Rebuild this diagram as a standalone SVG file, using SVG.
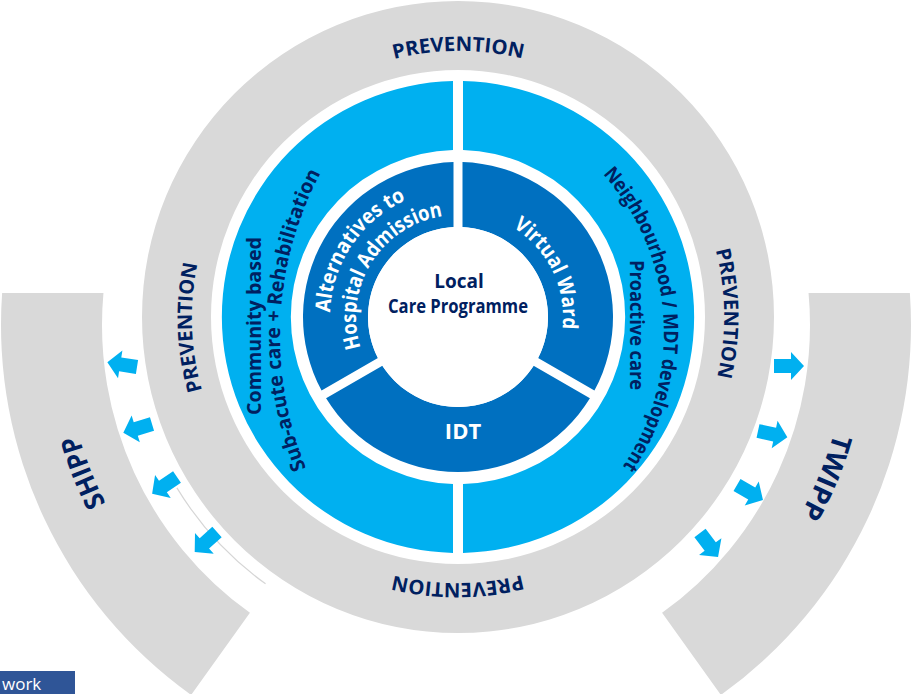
<svg xmlns="http://www.w3.org/2000/svg" width="912" height="694" viewBox="0 0 912 694">
<style>
  text{font-family:"Open Sans","Liberation Sans",Arial,sans-serif;font-weight:700}
  .g{fill:#d9d9d9}
  .lb{fill:#00b0f0}
  .db{fill:#0070c0}
  .n{fill:#002060}
  .w{fill:#ffffff}
  .arr{fill:#00b0f0}
  .prev{font-size:20px}
  .ring{font-size:20px}
  .inner{font-size:21px}
  .band{font-size:27px}
</style>
<defs>
  <path id="arrow" d="M0,-7 L17,-7 L17,-14 L30,0 L17,14 L17,7 L0,7 Z"/>
  <path id="prevCircle" d="M645.38,504.38 A265,265 0 1 1 270.62,129.62 A265,265 0 1 1 645.38,504.38"/>
  <path id="subPath" d="M326.49,509.5 A347,347 0 0 1 344.85,134"/>
  <path id="neighPath" d="M594.58,165.42 A237,237 0 0 1 615.78,476.29"/>
  <path id="altPath" d="M336.97,358.67 A128,128 0 0 1 451.3,189.18"/>
  <path id="hospPath" d="M369.67,368 A102,102 0 0 1 465.12,215.25"/>
  <path id="vwPath" d="M476.23,213.59 A105,105 0 0 1 550.71,366.29"/>
  <path id="shippPath" d="M259.5,665.34 A393,393 0 0 1 79.77,211.41"/>
  <path id="twippPath" d="M833.78,216.67 A393,393 0 0 1 647.73,668.06"/>
</defs>
<rect width="912" height="694" fill="#ffffff"/>

<g id="prevention-ring">
  <path class="g" fill-rule="evenodd" d="M774,317 A316,316 0 1 1 142,317 A316,316 0 1 1 774,317 Z M705,317 A247,247 0 1 0 211,317 A247,247 0 1 0 705,317 Z"/>
  <text class="n prev"><textPath href="#prevCircle" startOffset="12.5%" text-anchor="middle" textLength="130" lengthAdjust="spacingAndGlyphs">PREVENTION</textPath></text>
  <text class="n prev"><textPath href="#prevCircle" startOffset="36.9%" text-anchor="middle" textLength="128" lengthAdjust="spacingAndGlyphs">PREVENTION</textPath></text>
  <text class="n prev"><textPath href="#prevCircle" startOffset="62.5%" text-anchor="middle" textLength="130" lengthAdjust="spacingAndGlyphs">PREVENTION</textPath></text>
  <text class="n prev"><textPath href="#prevCircle" startOffset="87.3%" text-anchor="middle" textLength="128" lengthAdjust="spacingAndGlyphs">PREVENTION</textPath></text>
  <path d="M176.91,487.92 A329,329 0 0 0 265.55,583.84" fill="none" stroke="#d6d6d6" stroke-width="1.2"/>
</g>

<g id="shipp">
  <path class="g" d="M2.13,293 L103.45,293 A354,354 0 0 0 249.93,612.83 L191.14,694.95 A455,455 0 0 1 2.13,293 Z"/>
  <text class="n band"><textPath href="#shippPath" startOffset="50%" text-anchor="middle" textLength="74" lengthAdjust="spacingAndGlyphs">SHIPP</textPath></text>
</g>

<g id="twipp">
  <path class="g" d="M909.87,293 L808.55,293 A354,354 0 0 1 662.07,612.83 L720.86,694.95 A455,455 0 0 0 909.87,293 Z"/>
  <text class="n band"><textPath href="#twippPath" startOffset="50%" text-anchor="middle" textLength="88" lengthAdjust="spacingAndGlyphs">TWIPP</textPath></text>
</g>

<g id="community-subacute">
  <path class="lb" d="M453,552.95 A236,236 0 0 1 453,81.05 L453,150.07 A167,167 0 0 0 453,483.93 Z"/>
  <text class="n ring" transform="translate(261,326) rotate(-90)" text-anchor="middle" textLength="178" lengthAdjust="spacingAndGlyphs">Community based</text>
  <text class="n ring"><textPath href="#subPath" startOffset="50%" text-anchor="middle" textLength="305" lengthAdjust="spacingAndGlyphs">Sub-acute care + Rehabilitation</textPath></text>
</g>

<g id="neighbourhood-proactive">
  <path class="lb" d="M463,81.05 A236,236 0 0 1 463,552.95 L463,483.93 A167,167 0 0 0 463,150.07 Z"/>
  <text class="n ring"><textPath href="#neighPath" startOffset="50%" text-anchor="middle" textLength="316" lengthAdjust="spacingAndGlyphs">Neighbourhood / MDT development</textPath></text>
  <text class="n ring" transform="translate(630,325) rotate(90)" text-anchor="middle" textLength="130" lengthAdjust="spacingAndGlyphs">Proactive care</text>
</g>

<g id="alternatives">
  <path class="db" d="M321.57,390.57 A155,155 0 0 1 453.5,162.07 L453.5,227.11 A90,90 0 0 0 377.91,358.05 Z"/>
  <text class="w inner"><textPath href="#altPath" startOffset="50%" text-anchor="middle" textLength="143" lengthAdjust="spacingAndGlyphs">Alternatives to</textPath></text>
  <text class="w inner"><textPath href="#hospPath" startOffset="50%" text-anchor="middle" textLength="176" lengthAdjust="spacingAndGlyphs">Hospital Admission</textPath></text>
</g>

<g id="virtual-ward">
  <path class="db" d="M462.5,162.07 A155,155 0 0 1 594.43,390.57 L538.09,358.05 A90,90 0 0 0 462.5,227.11 Z"/>
  <text class="w inner"><textPath href="#vwPath" startOffset="50%" text-anchor="middle" textLength="119" lengthAdjust="spacingAndGlyphs">Virtual Ward</textPath></text>
</g>

<g id="idt">
  <path class="db" d="M589.93,398.36 A155,155 0 0 1 326.07,398.36 L382.4,365.84 A90,90 0 0 0 533.6,365.84 Z"/>
  <text class="w" x="463" y="439" font-size="22" text-anchor="middle">IDT</text>
</g>

<g id="centre">
  <circle cx="458" cy="317" r="90" fill="#ffffff"/>
  <text class="n" x="459" y="288" font-size="19" text-anchor="middle">Local</text>
  <text class="n" x="458" y="313" font-size="19" text-anchor="middle" textLength="140" lengthAdjust="spacingAndGlyphs">Care Programme</text>
</g>

<g id="connectors">
  <use href="#arrow" class="arr" transform="translate(137,367) rotate(189)"/>
  <use href="#arrow" class="arr" transform="translate(152,424) rotate(163)"/>
  <use href="#arrow" class="arr" transform="translate(177,477) rotate(146)"/>
  <use href="#arrow" class="arr" transform="translate(217,532) rotate(138)"/>
  <use href="#arrow" class="arr" transform="translate(774,366) rotate(0)"/>
  <use href="#arrow" class="arr" transform="translate(758,431) rotate(12)"/>
  <use href="#arrow" class="arr" transform="translate(737,485) rotate(30)"/>
  <use href="#arrow" class="arr" transform="translate(700,533) rotate(53)"/>
</g>

<g id="footer">
  <rect x="0" y="671" width="75" height="23" fill="#2f5597"/>
  <text x="2" y="690" font-size="17" fill="#ffffff" style="font-weight:400">work</text>
</g>
</svg>
